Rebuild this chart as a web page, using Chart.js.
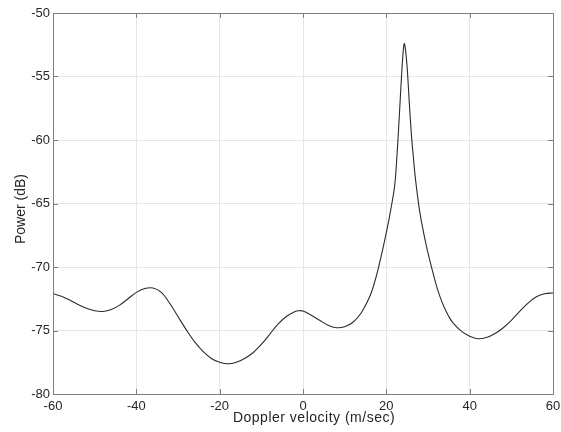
<!DOCTYPE html>
<html>
<head>
<meta charset="utf-8">
<script src="https://cdn.jsdelivr.net/npm/chart.js@4/dist/chart.umd.min.js"></script>
<style>
html,body{margin:0;padding:0;background:#fff;}
#wrap{width:561px;height:432px;}
</style>
</head>
<body>
<div id="wrap"><canvas id="c" width="561" height="432"></canvas></div>
<script>
const velocity = [-60,-58,-56,-54,-52,-50,-48,-46,-44,-42,-40,-38,-36,-34,-32,-30,-28,-26,-24,-22,-20,-18,-16,-14,-12,-10,-8,-6,-4,-2,-1,0,2,4,6,8,10,12,14,16,17,18,19,20,21,22,22.5,23,23.5,24,24.3,24.6,25,25.5,26,26.5,27,28,29,30,31,32,33,34,35,36,38,40,42,44,46,48,50,52,54,56,58,60];
const power = [-72.1,-72.3,-72.6,-72.95,-73.25,-73.45,-73.5,-73.35,-73.0,-72.5,-72.0,-71.7,-71.65,-72.0,-72.85,-73.9,-74.95,-75.9,-76.65,-77.2,-77.5,-77.62,-77.5,-77.2,-76.75,-76.1,-75.3,-74.5,-73.9,-73.52,-73.44,-73.47,-73.8,-74.2,-74.58,-74.78,-74.7,-74.35,-73.6,-72.35,-71.4,-70.2,-68.8,-67.3,-65.6,-63.6,-61.5,-58.8,-55.8,-53.2,-52.4,-52.9,-54.3,-57.0,-59.5,-61.4,-63.1,-65.6,-67.4,-68.9,-70.2,-71.45,-72.45,-73.25,-73.9,-74.4,-75.05,-75.45,-75.65,-75.55,-75.25,-74.8,-74.2,-73.5,-72.85,-72.35,-72.1,-72.05];
const xTicks = [-60,-40,-20,0,20,40,60];
const yTicks = [-80,-75,-70,-65,-60,-55,-50];
const xTitle = 'Doppler velocity (m/sec)';
const yTitle = 'Power (dB)';

const FAMILY = 'Liberation Sans, Arial, sans-serif';
const FONT = {family: FAMILY, size: 13};
const TEXT = '#262626';

const boxPlugin = {
  id: 'box',
  afterDraw(chart) {
    const {ctx, chartArea: a, scales} = chart;
    ctx.save();
    ctx.strokeStyle = '#7f7f7f';
    ctx.lineWidth = 1;
    ctx.beginPath();
    const L = 5;
    xTicks.forEach(v => {
      const px = Math.round(scales.x.getPixelForValue(v)) + 0.5;
      ctx.moveTo(px, a.bottom); ctx.lineTo(px, a.bottom - L);
      ctx.moveTo(px, a.top); ctx.lineTo(px, a.top + L);
    });
    yTicks.forEach(v => {
      const py = Math.round(scales.y.getPixelForValue(v)) + 0.5;
      ctx.moveTo(a.left, py); ctx.lineTo(a.left + L, py);
      ctx.moveTo(a.right, py); ctx.lineTo(a.right - L, py);
    });
    ctx.stroke();
    ctx.strokeRect(Math.round(a.left) + 0.5, Math.round(a.top) + 0.5, Math.round(a.right - a.left), Math.round(a.bottom - a.top));

    // axis titles
    ctx.fillStyle = TEXT;
    ctx.font = '14px ' + FAMILY;
    ctx.textAlign = 'center';
    ctx.textBaseline = 'alphabetic';
    try { ctx.letterSpacing = '0.5px'; } catch (e) {}
    ctx.fillText(xTitle, 314, 422);
    try { ctx.letterSpacing = '0px'; } catch (e) {}
    ctx.translate(25, 209);
    ctx.rotate(-Math.PI / 2);
    ctx.fillText(yTitle, 0, 0);
    ctx.restore();
  }
};

new Chart(document.getElementById('c'), {
  type: 'line',
  data: {
    datasets: [{
      data: velocity.map((v, i) => ({x: v, y: power[i]})),
      borderColor: '#2b2b2b',
      borderWidth: 1.1,
      pointRadius: 0,
      fill: false,
      tension: 0.35
    }]
  },
  options: {
    responsive: false,
    animation: false,
    devicePixelRatio: 1,
    layout: {padding: {top: 13, right: 8, left: 0, bottom: 0}},
    plugins: {legend: {display: false}, tooltip: {enabled: false}},
    scales: {
      x: {
        type: 'linear', min: -60, max: 60,
        afterBuildTicks(s) { s.ticks = xTicks.map(v => ({value: v})); },
        afterFit(s) { s.height = 38; s.paddingLeft = 0; s.paddingRight = 0; },
        grid: {color: '#e6e6e6', drawTicks: false, lineWidth: 1},
        border: {display: false},
        ticks: {font: FONT, color: TEXT, padding: 5, maxRotation: 0, autoSkip: false},
        title: {display: false}
      },
      y: {
        type: 'linear', min: -80, max: -50,
        afterBuildTicks(s) { s.ticks = yTicks.map(v => ({value: v})); },
        afterFit(s) { s.width = 53; s.paddingTop = 0; s.paddingBottom = 0; },
        grid: {color: '#e6e6e6', drawTicks: false, lineWidth: 1},
        border: {display: false},
        ticks: {font: FONT, color: TEXT, padding: 3, autoSkip: false},
        title: {display: false}
      }
    }
  },
  plugins: [boxPlugin]
});
</script>
</body>
</html>
